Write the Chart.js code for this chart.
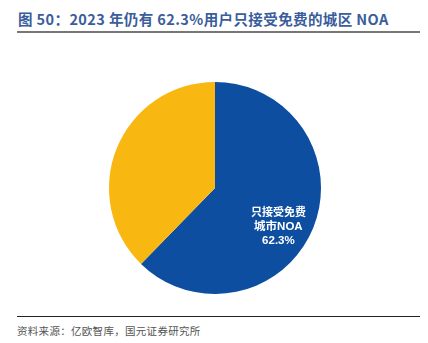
<!DOCTYPE html>
<html><head><meta charset="utf-8">
<script src="https://cdn.jsdelivr.net/npm/chart.js@4.4.0/dist/chart.umd.min.js"></script>
<style>
html,body{margin:0;padding:0;background:#fff;width:428px;height:343px;overflow:hidden;}
#title{position:absolute;left:18px;top:9px;font-family:"Noto Sans CJK SC";font-weight:bold;font-size:14.5px;color:#3A5D9C;white-space:nowrap;line-height:20px;letter-spacing:0.4px;}
#tline{position:absolute;left:17px;top:31px;width:403px;height:1.5px;background:#777;}
#fline{position:absolute;left:17px;top:316px;width:403px;height:1px;background:#222;}
#foot{position:absolute;left:17px;top:323px;font-family:"Noto Sans CJK SC";font-size:10.5px;color:#555;white-space:nowrap;line-height:16px;letter-spacing:0.3px;}
#wrap{position:absolute;left:1px;top:82px;width:428px;height:212px;}
</style></head>
<body>
<div id="title">图 50：2023 年仍有 62.3%用户只接受免费的城区 NOA</div>
<div id="tline"></div>
<div id="wrap"><canvas id="c"></canvas></div>
<div id="fline"></div>
<div id="foot">资料来源：亿欧智库，国元证券研究所</div>
<script>
const categories = ["只接受免费城市NOA", "其他"];
const values = [62.3, 37.7];
const labelLines = ["只接受免费", "城市NOA", "62.3%"];
const colors = ["#0D4EA0", "#F8B711"];

const labelPlugin = {
  id: "sliceLabel",
  afterDatasetsDraw(chart) {
    const arc = chart.getDatasetMeta(0).data[0];
    const mid = (arc.startAngle + arc.endAngle) / 2 + 0.16;
    const r = arc.outerRadius * 0.7;
    const x = arc.x + Math.cos(mid) * r;
    const y = arc.y + Math.sin(mid) * r;
    const ctx = chart.ctx;
    ctx.save();
    ctx.fillStyle = "#fff";
    ctx.textAlign = "center";
    ctx.textBaseline = "middle";
    ctx.font = "bold 11px 'Noto Sans CJK SC'";
    ctx.fillText(labelLines[0], x, y - 14.5);
    ctx.font = "bold 11.5px 'Liberation Sans', 'Noto Sans CJK SC'";
    ctx.fillText(labelLines[1], x, y);
    ctx.fillText(labelLines[2], x, y + 14);
    ctx.restore();
  }
};

new Chart(document.getElementById("c"), {
  type: "pie",
  data: { labels: categories, datasets: [{ data: values, backgroundColor: colors, borderWidth: 0 }] },
  options: {
    responsive: true, maintainAspectRatio: false, animation: false,
    layout: { padding: 0 },
    plugins: { legend: { display: false }, tooltip: { enabled: false } }
  },
  plugins: [labelPlugin]
});
</script>
</body></html>
